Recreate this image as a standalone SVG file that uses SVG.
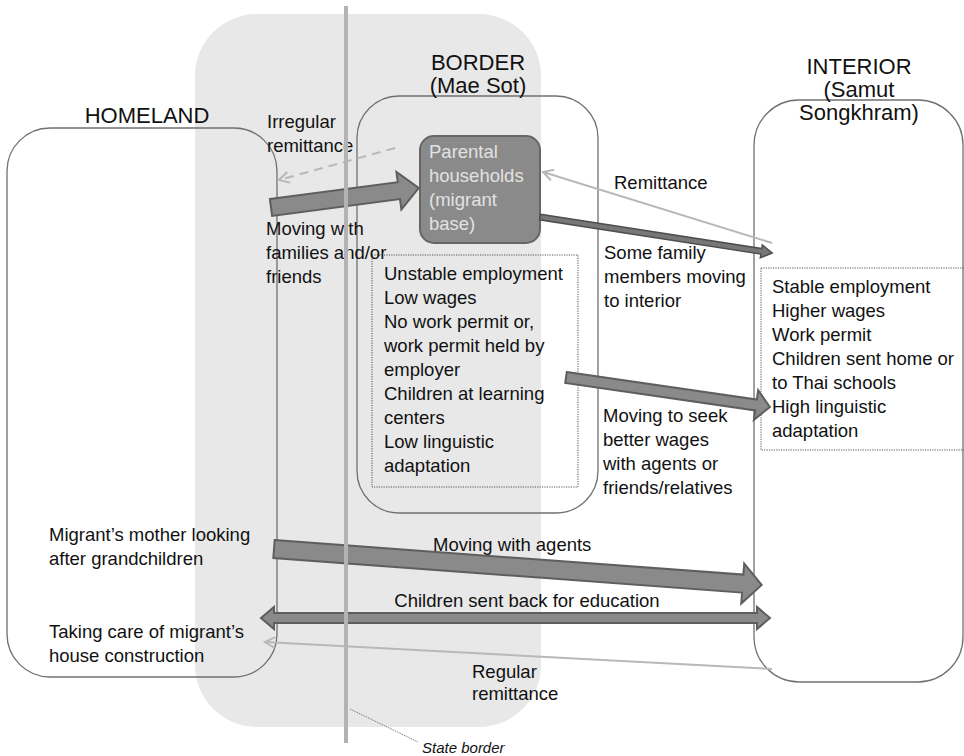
<svg xmlns="http://www.w3.org/2000/svg" width="964" height="756" viewBox="0 0 964 756">
<style>
.t{font-family:"Liberation Sans",Arial,sans-serif;font-size:18.5px;fill:#111}
.h{font-family:"Liberation Sans",Arial,sans-serif;font-size:22px;fill:#111;text-anchor:middle}
.box{fill:none;stroke:#707070;stroke-width:1.3}
.dot{fill:none;stroke:#555;stroke-width:1;stroke-dasharray:1.2,1.2}
.blk{fill:#8a8a8a;stroke:#5e5e5e;stroke-width:2;stroke-linejoin:miter}
.thin{fill:none;stroke:#b8b8b8;stroke-width:2}
</style>
<defs>
<marker id="open" viewBox="0 0 14 14" refX="12" refY="7" markerWidth="14" markerHeight="14" markerUnits="userSpaceOnUse" orient="auto">
<path d="M2,1.5 L12,7 L2,12.5" fill="none" stroke="#b8b8b8" stroke-width="2"/>
</marker>
</defs>
<rect width="964" height="756" fill="#fff"/>
<rect id="border-zone" x="195" y="14" width="346" height="713" rx="62" ry="62" fill="#e8e8e8"/>

<g id="homeland">
<rect class="box" x="7" y="128" width="270" height="549" rx="43" ry="43"/>
<text class="h" x="147" y="123">HOMELAND</text>
<text class="t" x="49" y="541">Migrant’s mother looking</text>
<text class="t" x="49" y="565">after grandchildren</text>
<text class="t" x="49" y="638">Taking care of migrant’s</text>
<text class="t" x="49" y="662">house construction</text>
</g>

<g id="border">
<rect class="box" x="357" y="96" width="241" height="417" rx="42" ry="42"/>
<text class="h" x="478" y="70">BORDER</text>
<text class="h" x="478" y="93">(Mae Sot)</text>
</g>

<g id="parental">
<rect x="420" y="136" width="120" height="107" rx="14" ry="14" fill="#8a8a8a" stroke="#666" stroke-width="2"/>
<text class="t" x="429" y="158" style="fill:#e2e2e2">Parental</text>
<text class="t" x="429" y="182" style="fill:#e2e2e2">households</text>
<text class="t" x="429" y="206" style="fill:#e2e2e2">(migrant</text>
<text class="t" x="429" y="230" style="fill:#e2e2e2">base)</text>
</g>

<g id="border-conditions">
<rect class="dot" x="372" y="255" width="206" height="232"/>
<text class="t" x="384" y="280">Unstable employment</text>
<text class="t" x="384" y="304">Low wages</text>
<text class="t" x="384" y="328">No work permit or,</text>
<text class="t" x="384" y="352">work permit held by</text>
<text class="t" x="384" y="376">employer</text>
<text class="t" x="384" y="400">Children at learning</text>
<text class="t" x="384" y="424">centers</text>
<text class="t" x="384" y="448">Low linguistic</text>
<text class="t" x="384" y="472">adaptation</text>
</g>

<g id="interior">
<rect class="box" x="754" y="100" width="209" height="582" rx="45" ry="45"/>
<text class="h" x="859" y="74">INTERIOR</text>
<text class="h" x="859" y="97">(Samut</text>
<text class="h" x="859" y="120">Songkhram)</text>
</g>

<g id="interior-conditions">
<rect x="761" y="268" width="210" height="182" fill="#fff" class="dot"/>
<text class="t" x="772" y="293">Stable employment</text>
<text class="t" x="772" y="317">Higher wages</text>
<text class="t" x="772" y="341">Work permit</text>
<text class="t" x="772" y="365">Children sent home or</text>
<text class="t" x="772" y="389">to Thai schools</text>
<text class="t" x="772" y="413">High linguistic</text>
<text class="t" x="772" y="437">adaptation</text>
</g>

<g id="labels">
<text class="t" x="267" y="128">Irregular</text>
<text class="t" x="267" y="152">remittance</text>
<text class="t" x="266" y="235">Moving with</text>
<text class="t" x="266" y="259">families and/or</text>
<text class="t" x="266" y="283">friends</text>
<text class="t" x="614" y="189">Remittance</text>
<text class="t" x="604" y="259">Some family</text>
<text class="t" x="604" y="283">members moving</text>
<text class="t" x="604" y="307">to interior</text>
<text class="t" x="603" y="422">Moving to seek</text>
<text class="t" x="603" y="446">better wages</text>
<text class="t" x="603" y="470">with agents or</text>
<text class="t" x="603" y="494">friends/relatives</text>
<text class="t" x="433" y="551">Moving with agents</text>
<text class="t" x="527" y="607" text-anchor="middle">Children sent back for education</text>
<text class="t" x="472" y="678">Regular</text>
<text class="t" x="472" y="700">remittance</text>
</g>

<g id="connectors">
<line class="thin" x1="395" y1="148" x2="279" y2="180" stroke-dasharray="9,6" marker-end="url(#open)"/>
<line class="thin" x1="772" y1="243" x2="543" y2="172" marker-end="url(#open)"/>
<line class="thin" x1="772" y1="669" x2="265" y2="642" marker-end="url(#open)"/>
<polygon class="blk" transform="translate(271,207.5) rotate(-7.5)" points="0,-8.5 129,-8.5 129,-19 149,0 129,19 129,8.5 0,8.5"/>
<polygon class="blk" style="stroke-width:1.5;fill:#777;stroke:#4e4e4e" transform="translate(540,217) rotate(8.82)" points="0,-2.8 224,-2.8 224,-6.5 235,0 224,6.5 224,2.8 0,2.8"/>
<polygon class="blk" transform="translate(566,377.5) rotate(8.23)" points="0,-5.5 192,-5.5 192,-15 206,0 192,15 192,5.5 0,5.5"/>
<polygon class="blk" transform="translate(274,549) rotate(4.22)" points="0,-9 470,-9 470,-20 489,0 470,20 470,9 0,9"/>
<polygon class="blk" points="261,618 274,607 274,613 757,613 757,607 770,618 757,629 757,623 274,623 274,629"/>
</g>

<g id="state-border">
<line x1="346" y1="6" x2="346" y2="743" stroke="#b3b3b3" stroke-width="4"/>
<line x1="350" y1="709" x2="418" y2="742" stroke="#666" stroke-width="1" stroke-dasharray="1,1"/>
<text x="422" y="753" font-family="Liberation Sans, Arial, sans-serif" font-size="15" font-style="italic" fill="#111">State border</text>
</g>
</svg>
